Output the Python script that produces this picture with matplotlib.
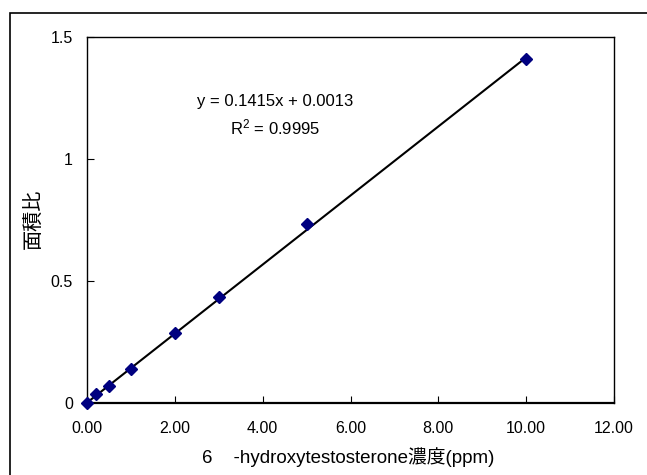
import matplotlib.pyplot as plt
from matplotlib.patches import Rectangle

plt.rcParams['font.family'] = ['Liberation Sans', 'Noto Sans CJK JP', 'DejaVu Sans']

# calibration data
conc = [0, 0.2, 0.5, 1, 2, 3, 5, 10]
ratio = [0.0, 0.036, 0.068, 0.138, 0.287, 0.434, 0.735, 1.408]
slope = 0.1415
icept = 0.0013
xticks = [0, 2, 4, 6, 8, 10, 12]
yticks = [0, 0.5, 1, 1.5]
ylabels = ['0', '0.5', '1', '1.5']

W, H = 647, 475
fig = plt.figure(figsize=(W/100, H/100), dpi=100)
ax = fig.add_axes([87/W, 1-403/H, (614-87)/W, (403-37)/H])

# outer chart border (excel style)
fig.patches.append(Rectangle((10/W, -0.01), 1.0, 1-13/H+0.01, transform=fig.transFigure,
                             fill=False, edgecolor='black', linewidth=1.2))

xl = [conc[0], conc[-1]]
ax.plot(xl, [slope*v + icept for v in xl], color='black', linewidth=1.5, zorder=2)
ax.plot(conc, ratio, linestyle='none', marker='D', markersize=6.5,
        markerfacecolor='#000080', markeredgecolor='#000080', zorder=3, clip_on=False)

ax.set_xlim(0, 12)
ax.set_ylim(0, 1.5)
ax.set_xticks(xticks)
ax.set_xticklabels([f'{v:.2f}' for v in xticks])
ax.set_yticks(yticks)
ax.set_yticklabels(ylabels)
ax.tick_params(direction='in', length=5, labelsize=11.5)
ax.tick_params(axis='x', pad=13)
ax.tick_params(axis='y', pad=10)
for s in ax.spines.values():
    s.set_linewidth(1.0)
ax.spines['bottom'].set_linewidth(1.6)

ax.text(4.29, 1.234, 'y = 0.1415x + 0.0013', ha='center', va='center', fontsize=12)
ax.text(4.29, 1.131, '$\\mathregular{R^2}$ = 0.9995', ha='center', va='center', fontsize=12)

fig.text(348/W, 1-457/H, '6    -hydroxytestosterone濃度(ppm)', ha='center', va='center', fontsize=13.5)
fig.text(34/W, 1-219/H, '面積比', rotation=90, ha='center', va='center', fontsize=14.5)

fig.savefig('out.png', dpi=100)
